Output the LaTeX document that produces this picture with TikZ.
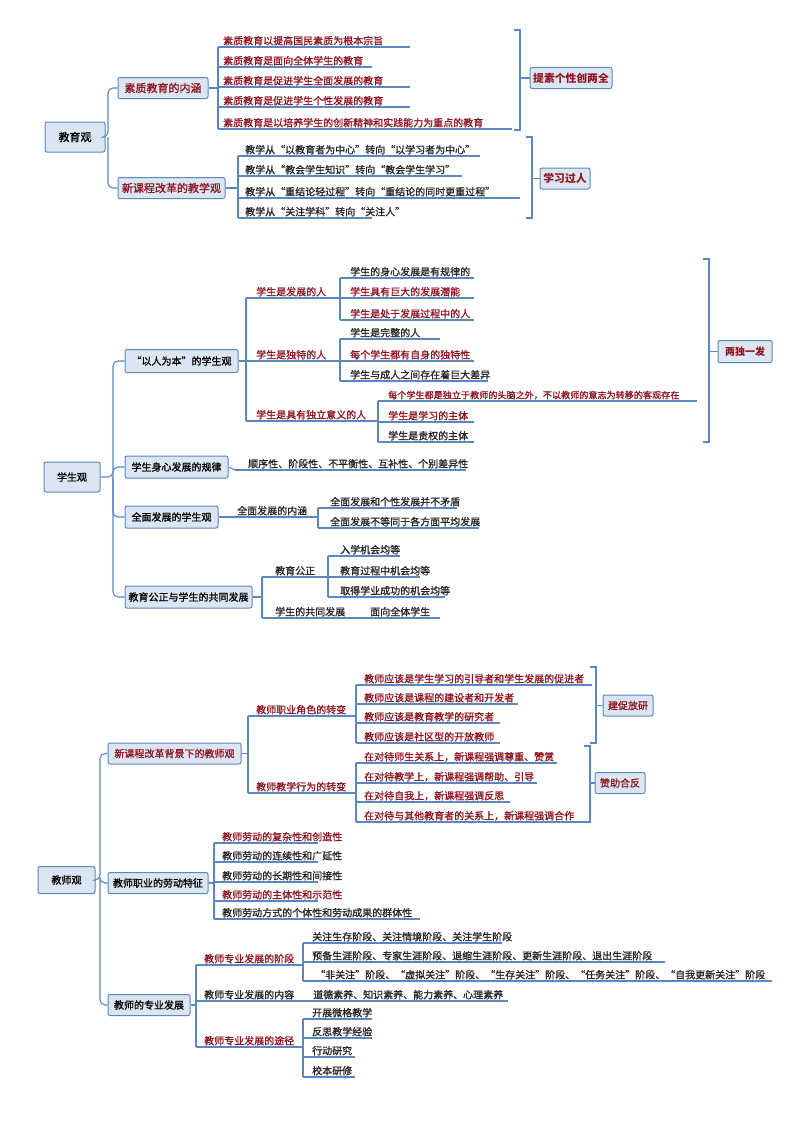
\documentclass[tikz,border=0pt]{standalone}
\usepackage{fontspec}
\setmainfont{Noto Sans CJK SC}[AutoFakeBold=1.2]
\begin{document}
\begin{tikzpicture}[x=1pt,y=-1pt,every node/.style={font=\bfseries},
  ln/.style={draw=lnc,line width=1.1pt},
  br/.style={draw=lnc,line width=1.1pt},
  bx/.style={draw=lnc,line width=1pt,fill=bxf,rounded corners=2pt,inner sep=0pt,font=\fontsize{#1}{#1}\selectfont\bfseries},
  bx/.default=10,
  lt/.style={inner sep=0pt},
  rd/.style={text=rdc},
  bk/.style={text=black!85},
  tag/.style={draw=lnc,line width=1pt,fill=bxf,rounded corners=2pt,inner sep=0pt,text=rdc}]
\definecolor{lnc}{HTML}{5A87C0}
\definecolor{bxf}{HTML}{DCE6F3}
\definecolor{rdc}{HTML}{8E1420}
\useasboundingbox (0,0) rectangle (800,1132);
% leaf macro: name, vx, tx, y, end, style, text
\newcommand\lf[7]{\node[lt,#6,anchor=base west] (#1) at (#3,#4-2.5) {#7};
  \draw[ln] (#2,#4) -- (#5,#4);}
\newcommand\vb[3]{\draw[ln] (#1,#2) -- (#1,#3);}

%================ Section 1
\begin{scope}[font=\fontsize{10.8}{12}\selectfont\bfseries]
\node[bx=11,minimum width=60,minimum height=30] (r1) at (75,137) {教育观};
\node[bx=11,minimum width=90,minimum height=21,text=rdc] (a1) at (163,88) {素质教育的内涵};
\node[bx=11,minimum width=107,minimum height=21,text=rdc] (a2) at (171.5,188) {新课程改革的教学观};
\draw[ln,rounded corners=5pt] (r1.east) -- (108,137) |- (a1.west);
\draw[ln,rounded corners=5pt] (108,137) |- (a2.west);
\draw[ln] (a1.east) -- (218,88);
\vb{218}{47}{129}
\lf{l11}{218}{223}{47}{410}{rd}{素质教育以提高国民素质为根本宗旨}
\lf{l12}{218}{223}{67}{372}{rd}{素质教育是面向全体学生的教育}
\lf{l13}{218}{223}{87}{410}{rd}{素质教育是促进学生全面发展的教育}
\lf{l14}{218}{223}{107}{410}{rd}{素质教育是促进学生个性发展的教育}
\lf{l15}{218}{223}{129}{512}{rd}{素质教育是以培养学生的创新精神和实践能力为重点的教育}
\draw[br] (514,30) -- (520,30) -- (520,130) -- (514,130);
\node[tag,minimum width=82,minimum height=21,font=\fontsize{10.8}{12}\itshape\bfseries] (t1) at (571,78) {提素个性创两全};
\draw[br] (520,78) -- (t1.west);
\draw[ln] (a2.east) -- (238,188);
\vb{238}{156}{218}
\lf{l21}{238}{245}{156}{480}{bk}{教学从“以教育者为中心”转向“以学习者为中心”}
\lf{l22}{238}{245}{176}{462}{bk}{教学从“教会学生知识”转向“教会学生学习”}
\lf{l23}{238}{245}{198}{520}{bk}{教学从“重结论轻过程”转向“重结论的同时更重过程”}
\lf{l24}{238}{245}{218}{372}{bk}{教学从“关注学科”转向“关注人”}
\draw[br] (526,137) -- (532,137) -- (532,218) -- (526,218);
\node[tag,minimum width=50,minimum height=21,font=\fontsize{10.8}{12}\itshape\bfseries] (t2) at (565,178.5) {学习过人};
\draw[br] (532,178.5) -- (t2.west);
\end{scope}

%================ Section 2
\begin{scope}[font=\fontsize{9.6}{11}\selectfont\bfseries]
\node[bx=10,minimum width=56,minimum height=30] (r2) at (72,477) {学生观};
\node[bx=10,minimum width=113,minimum height=23] (b1) at (181.5,361) {“以人为本”的学生观};
\node[bx=10,minimum width=103,minimum height=22] (b2) at (176.5,467) {学生身心发展的规律};
\node[bx=10,minimum width=93,minimum height=22] (b3) at (171.5,517) {全面发展的学生观};
\node[bx=10,minimum width=127,minimum height=22] (b4) at (188.5,597) {教育公正与学生的共同发展};
\draw[ln,rounded corners=5pt] (r2.east) -- (113,477) |- (b1.west);
\draw[ln,rounded corners=5pt] (113,477) |- (b2.west);
\draw[ln,rounded corners=5pt] (113,477) |- (b3.west);
\draw[ln,rounded corners=5pt] (113,477) |- (b4.west);
% b1
\draw[ln] (b1.east) -- (246,361);
\vb{246}{298}{421}
\lf{m1}{246}{256}{298}{340}{rd}{学生是发展的人}
\lf{m2}{246}{256}{361}{340}{rd}{学生是独特的人}
\lf{m3}{246}{256}{421}{378}{rd}{学生是具有独立意义的人}
\vb{340}{278}{320}
\lf{m11}{340}{350}{278}{474}{bk}{学生的身心发展是有规律的}
\lf{m12}{340}{350}{298}{474}{rd}{学生具有巨大的发展潜能}
\lf{m13}{340}{350}{320}{474}{rd}{学生是处于发展过程中的人}
\vb{340}{339}{381}
\lf{m21}{340}{350}{339}{440}{bk}{学生是完整的人}
\lf{m22}{340}{350}{361}{474}{rd}{每个学生都有自身的独特性}
\lf{m23}{340}{350}{381}{488}{bk}{学生与成人之间存在着巨大差异}
\vb{378}{401}{442}
\lf{m31}{378}{388}{401}{697}{rd,font=\fontsize{9.1}{11}\selectfont\bfseries}{每个学生都是独立于教师的头脑之外，不以教师的意志为转移的客观存在}
\lf{m32}{378}{388}{422}{474}{rd}{学生是学习的主体}
\lf{m33}{378}{388}{442}{474}{bk}{学生是责权的主体}
\draw[br] (703,259) -- (709,259) -- (709,442) -- (703,442);
\node[tag,minimum width=54,minimum height=22,font=\fontsize{10}{11}\itshape\bfseries] (t3) at (745,351.5) {两独一发};
\draw[br] (709,351.5) -- (t3.west);
% b2
\draw[ln] (b2.east) -- (235,470);
\lf{n1}{235}{248}{470}{466}{bk}{顺序性、阶段性、不平衡性、互补性、个别差异性}
% b3
\draw[ln] (b3.east) -- (222,517);
\lf{n2}{222}{237}{517}{318}{bk}{全面发展的内涵}
\vb{318}{508}{528}
\lf{n21}{318}{330}{508}{457}{bk}{全面发展和个性发展并不矛盾}
\lf{n22}{318}{330}{528}{479}{bk}{全面发展不等同于各方面平均发展}
% b4
\draw[ln] (b4.east) -- (262,597);
\vb{262}{577}{618}
\lf{o1}{262}{275}{577}{328}{bk}{教育公正}
\lf{o2}{262}{275}{618}{360}{bk}{学生的共同发展}
\vb{328}{556}{597}
\lf{o11}{328}{340}{556}{400}{bk}{入学机会均等}
\lf{o12}{328}{340}{577}{420}{bk}{教育过程中机会均等}
\lf{o13}{328}{340}{597}{445}{bk}{取得学业成功的机会均等}
\lf{o21}{360}{370}{618}{440}{bk}{面向全体学生}
\end{scope}

%================ Section 3
\begin{scope}[font=\fontsize{10}{11}\selectfont\bfseries]
\node[bx=10,minimum width=57,minimum height=27] (r3) at (66.5,880) {教师观};
\node[bx=10,minimum width=133,minimum height=21,text=rdc] (c1) at (174.5,753.5) {新课程改革背景下的教师观};
\node[bx=10,minimum width=100,minimum height=21] (c2) at (158,883) {教师职业的劳动特征};
\node[bx=10,minimum width=82,minimum height=21] (c3) at (149,1005) {教师的专业发展};
\draw[ln,rounded corners=5pt] (r3.east) -- (100,880) |- (c1.west);
\draw[ln,rounded corners=5pt] (100,880) |- (c2.west);
\draw[ln,rounded corners=5pt] (100,880) |- (c3.west);
% c1
\draw[ln] (c1.east) -- (248,753.5);
\vb{248}{716}{793}
\lf{p1}{248}{256}{716}{356}{rd}{教师职业角色的转变}
\lf{p2}{248}{256}{793}{356}{rd}{教师教学行为的转变}
\vb{356}{685}{743}
\lf{p11}{356}{364}{685}{592}{rd}{教师应该是学生学习的引导者和学生发展的促进者}
\lf{p12}{356}{364}{704}{518}{rd}{教师应该是课程的建设者和开发者}
\lf{p13}{356}{364}{723}{500}{rd}{教师应该是教育教学的研究者}
\lf{p14}{356}{364}{743}{500}{rd}{教师应该是社区型的开放教师}
\draw[br] (590,667) -- (596,667) -- (596,743) -- (590,743);
\node[tag,minimum width=50,minimum height=21,font=\fontsize{10}{11}\selectfont\bfseries] (t4) at (628,705.5) {建促放研};
\draw[br] (596,705.5) -- (t4.west);
\vb{356}{763}{822}
\lf{p21}{356}{364}{763}{557}{rd}{在对待师生关系上，新课程强调尊重、赞赏}
\lf{p22}{356}{364}{783}{537}{rd}{在对待教学上，新课程强调帮助、引导}
\lf{p23}{356}{364}{802}{510}{rd}{在对待自我上，新课程强调反思}
\lf{p24}{356}{364}{822}{585}{rd}{在对待与其他教育者的关系上，新课程强调合作}
\draw[br] (584,746) -- (590,746) -- (590,822) -- (584,822);
\node[tag,minimum width=50,minimum height=21,font=\fontsize{10}{11}\selectfont\bfseries] (t5) at (620,783) {赞助合反};
\draw[br] (590,783) -- (t5.west);
% c2
\draw[ln] (c2.east) -- (214,883);
\vb{214}{843}{919}
\lf{q1}{214}{222}{843}{318}{rd}{教师劳动的复杂性和创造性}
\lf{q2}{214}{222}{862}{318}{bk}{教师劳动的连续性和广延性}
\lf{q3}{214}{222}{882}{318}{bk}{教师劳动的长期性和间接性}
\lf{q4}{214}{222}{901}{318}{rd}{教师劳动的主体性和示范性}
\lf{q5}{214}{222}{919}{420}{bk}{教师劳动方式的个体性和劳动成果的群体性}
% c3
\draw[ln] (c3.east) -- (196,1005);
\vb{196}{965}{1047}
\lf{s1}{196}{204}{965}{303}{rd}{教师专业发展的阶段}
\lf{s2}{196}{204}{1001}{305}{bk}{教师专业发展的内容}
\lf{s3}{196}{204}{1047}{303}{rd}{教师专业发展的途径}
\vb{303}{943}{981}
\lf{s11}{303}{312}{943}{502}{bk}{关注生存阶段、关注情境阶段、关注学生阶段}
\lf{s12}{303}{312}{962}{665}{bk}{预备生涯阶段、专家生涯阶段、退缩生涯阶段、更新生涯阶段、退出生涯阶段}
\lf{s13}{303}{315}{981}{772}{bk}{“非关注”阶段、“虚拟关注”阶段、“生存关注”阶段、“任务关注”阶段、“自我更新关注”阶段}
\lf{s21}{305}{313}{1001}{508}{bk}{道德素养、知识素养、能力素养、心理素养}
\vb{303}{1019}{1077}
\lf{s31}{303}{312}{1019}{372}{bk}{开展微格教学}
\lf{s32}{303}{312}{1038}{372}{bk}{反思教学经验}
\lf{s33}{303}{312}{1057}{355}{bk}{行动研究}
\lf{s34}{303}{312}{1077}{355}{bk}{校本研修}
\end{scope}
\end{tikzpicture}
\end{document}
